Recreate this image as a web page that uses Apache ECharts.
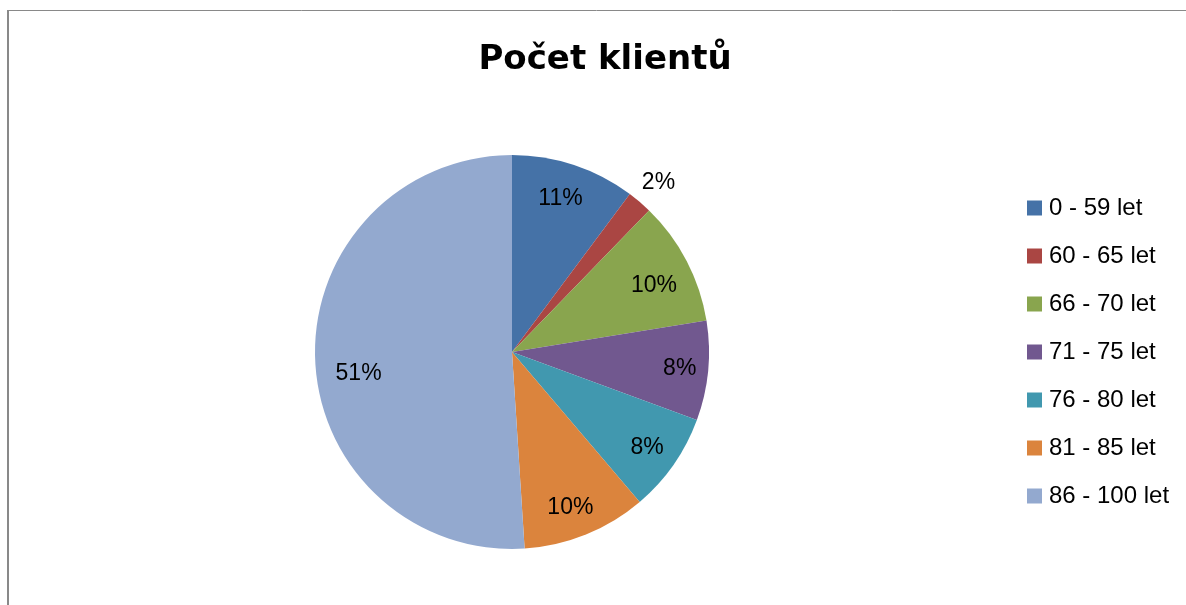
<!DOCTYPE html>
<html>
<head>
<meta charset="utf-8">
<script src="https://cdn.jsdelivr.net/npm/echarts@6/dist/echarts.min.js"></script>
<style>
html,body{margin:0;padding:0;background:#fff;}
#chart{width:1186px;height:605px;}
</style>
</head>
<body>
<div id="chart"></div>
<script>
const titleText = 'Počet klientů';
const categories = ['0 - 59 let', '60 - 65 let', '66 - 70 let', '71 - 75 let', '76 - 80 let', '81 - 85 let', '86 - 100 let'];
const counts = [5, 1, 5, 4, 4, 5, 25];
const percentLabels = ['11%', '2%', '10%', '8%', '8%', '10%', '51%'];
const colors = ['#4572A7', '#AA4643', '#89A54E', '#71588F', '#4198AF', '#DB843D', '#93A9CF'];
const outsideLabelIndex = [1];

const chart = echarts.init(document.getElementById('chart'));
const R = 197;
const CENTER = [512, 352];

const mainData = categories.map((n, i) => ({ name: n, value: counts[i], itemStyle: { color: colors[i] } }));
const insideLabelData = categories.map((n, i) => ({
  name: n, value: counts[i],
  label: { show: outsideLabelIndex.indexOf(i) < 0, formatter: percentLabels[i] }
}));
const outsideLabelData = categories.map((n, i) => ({
  name: n, value: counts[i],
  label: { show: outsideLabelIndex.indexOf(i) >= 0, formatter: percentLabels[i] }
}));

const labelFont = { color: '#000', fontFamily: 'Liberation Sans', fontSize: 23 };
// small placement nudges mimicking the original label placement
const labelNudge = [[-3, 2], [-1, 4], [-3, 9], [5, 1], [1, 2], [-3, 4], [10, 16]];
function nudge(p) {
  const d = labelNudge[p.dataIndex] || [0, 0];
  return { dx: d[0], dy: d[1] };
}

chart.setOption({
  backgroundColor: '#fff',
  animation: false,
  color: colors,
  title: {
    text: titleText,
    left: 600,
    top: 38,
    textAlign: 'center',
    textStyle: { fontFamily: 'DejaVu Sans', fontWeight: 'bold', fontSize: 34, color: '#000' }
  },
  legend: {
    orient: 'vertical',
    left: 1027,
    top: 196,
    padding: 0,
    icon: 'rect',
    itemWidth: 15,
    itemHeight: 15,
    itemGap: 24,
    selectedMode: false,
    data: categories,
    textStyle: { fontFamily: 'Liberation Sans', fontSize: 24, lineHeight: 24, color: '#000', padding: [0, 0, 0, 2] }
  },
  graphic: [
    { type: 'line', shape: { x1: 7, y1: 10.5, x2: 1186, y2: 10.5 }, style: { stroke: '#898989', lineWidth: 1 }, silent: true },
    { type: 'line', shape: { x1: 8, y1: 10, x2: 8, y2: 605 }, style: { stroke: '#898989', lineWidth: 2 }, silent: true }
  ],
  series: [
    {
      type: 'pie',
      center: CENTER,
      radius: [0, R],
      startAngle: 90,
      clockwise: true,
      silent: true,
      label: { show: false },
      labelLine: { show: false },
      itemStyle: { borderWidth: 0 },
      emphasis: { disabled: true },
      data: mainData
    },
    {
      type: 'pie',
      center: CENTER,
      radius: [124, R],
      startAngle: 90,
      clockwise: true,
      silent: true,
      itemStyle: { color: 'rgba(0,0,0,0)', borderWidth: 0 },
      label: Object.assign({ position: 'inside' }, labelFont),
      labelLine: { show: false },
      labelLayout: nudge,
      emphasis: { disabled: true },
      data: insideLabelData
    },
    {
      type: 'pie',
      center: CENTER,
      radius: [212, 237],
      startAngle: 90,
      clockwise: true,
      silent: true,
      itemStyle: { color: 'rgba(0,0,0,0)', borderWidth: 0 },
      label: Object.assign({ position: 'inside' }, labelFont),
      labelLine: { show: false },
      labelLayout: nudge,
      emphasis: { disabled: true },
      data: outsideLabelData
    }
  ]
});
</script>
</body>
</html>
